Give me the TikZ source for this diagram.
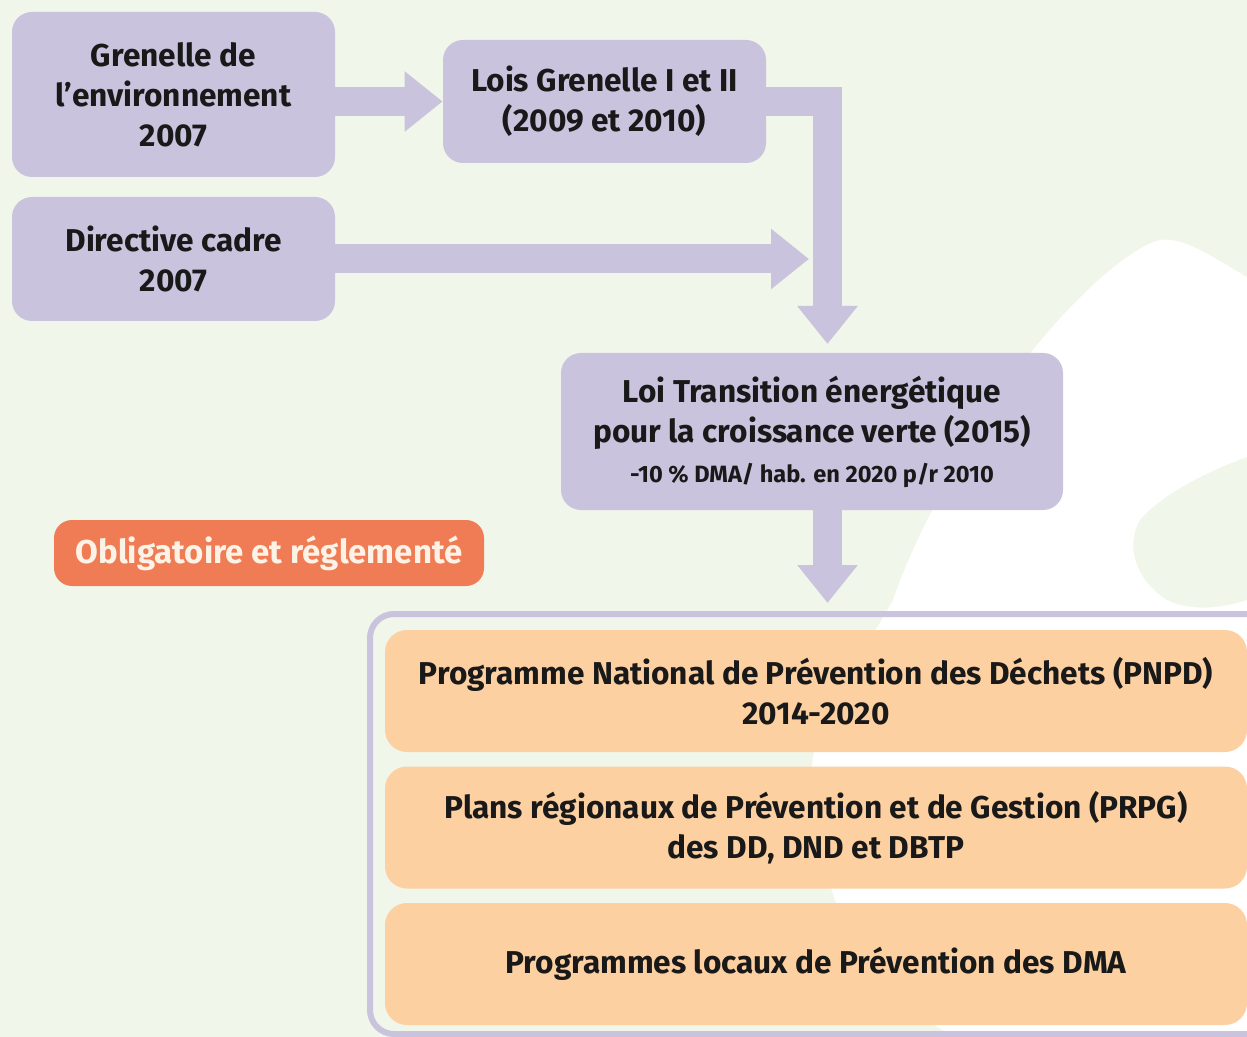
\documentclass[tikz,border=0pt]{standalone}
\usepackage{fontspec}
\setmainfont{Fira Sans}
\usetikzlibrary{arrows.meta}
\definecolor{loi}{RGB}{201,195,221}
\definecolor{plan}{RGB}{253,208,162}
\definecolor{oblig}{RGB}{240,124,85}
\definecolor{fond}{RGB}{240,246,233}
\definecolor{creme}{RGB}{252,243,230}
\tikzstyle{box}=[rounded corners=10pt, fill=loi, align=center, inner sep=0pt, text=black!90, font=\bfseries\fontsize{15.8}{20}\selectfont]
\tikzstyle{planbox}=[box, fill=plan, rounded corners=11pt, minimum width=431pt, minimum height=61pt]
\tikzset{fleche/.style={draw=loi, line width=14.5pt, -{Triangle[width=29pt,length=19pt]}}}
\tikzset{x=.5pt}
\tikzset{y=-.5pt}

\begin{document}
\begin{tikzpicture}
  \useasboundingbox (0,0) rectangle (1247,1037);
  \clip (0,0) rectangle (1247,1037);
  \fill[fond] (0,0) rectangle (1247,1037);
  %% white shape behind
  \fill[white] (1247,277) .. controls (1220,262) and (1185,236) .. (1160,240)
    .. controls (1120,250) and (1040,330) .. (990,410)
    .. controls (945,480) and (910,550) .. (893,600)
    .. controls (860,660) and (812,720) .. (812,770)
    .. controls (812,830) and (825,870) .. (835,900)
    .. controls (870,980) and (930,1030) .. (960,1037) -- (1247,1037) -- (1247,600)
    .. controls (1225,608) and (1190,612) .. (1167,600)
    .. controls (1135,580) and (1125,545) .. (1140,520)
    .. controls (1160,495) and (1210,470) .. (1247,457) -- cycle;

  \draw (173.5,94.5) node[box,minimum width=161.5pt,minimum height=82.5pt] (grenelle) {Grenelle de\\l’environnement\\2007};
  \draw (173.5,259) node[box,minimum width=161.5pt,minimum height=62pt] (directive) {Directive cadre\\2007};
  \draw (604.5,101.5) node[box,minimum width=161.5pt,minimum height=61.5pt] (lois) {Lois Grenelle I et II\\(2009 et 2010)};
  \draw (812,431.5) node[box,minimum width=251pt,minimum height=78.5pt] (loi) {Loi Transition énergétique\\pour la croissance verte (2015)\\{\fontsize{11.8}{20}\selectfont -10~\% DMA/ hab. en 2020 p/r 2010}};
  \draw (269,553) node[box,fill=oblig,text=creme,rounded corners=9pt,minimum width=215pt,minimum height=33pt,font=\bfseries\fontsize{16.5}{20}\selectfont] (oblig) {Obligatoire et réglementé};

  %% frame of the plans
  \draw[loi,line width=3pt,rounded corners=12pt] (370,614) rectangle (1300,1034);
  \draw (816,691) node[planbox] (pnpd) {Programme National de Prévention des Déchets (PNPD)\\2014-2020};
  \draw (816,827.5) node[planbox] (prpg) {Plans régionaux de Prévention et de Gestion (PRPG)\\des DD, DND et DBTP};
  \draw (816,964) node[planbox] (locaux) {Programmes locaux de Prévention des DMA};

  %% arrows
  \coordinate (tipA) at (827.5,344);
  \coordinate (tipB) at (809,259);
  \coordinate (tipC) at (827.5,603);
  \draw[fleche] (grenelle.east |- lois.west) -- (lois.west);
  \draw[fleche] (directive.east) -- (tipB);
  \draw[fleche] (lois.east) -| (tipA);
  \draw[fleche] (loi.south -| tipC) -- (tipC);
\end{tikzpicture}
\end{document}
